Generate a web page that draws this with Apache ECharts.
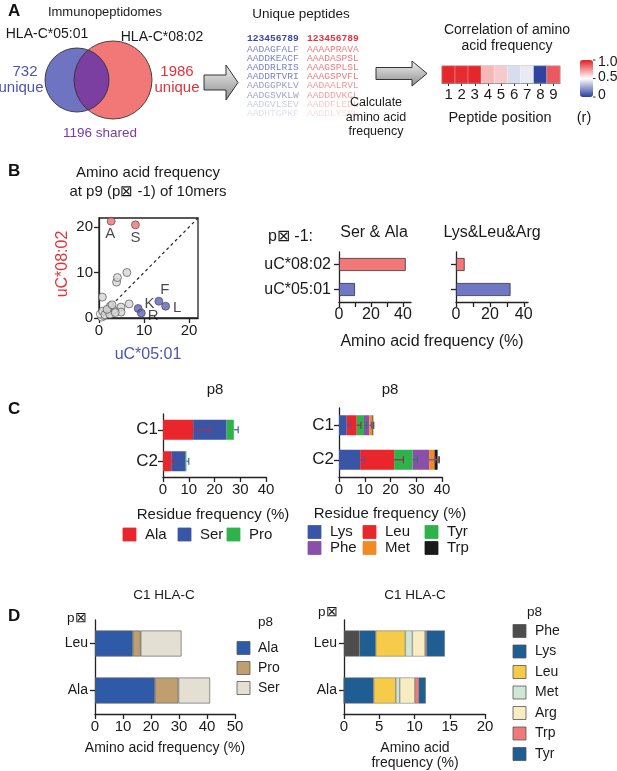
<!DOCTYPE html>
<html><head><meta charset="utf-8">
<script src="https://cdn.jsdelivr.net/npm/echarts@6/dist/echarts.min.js"></script>
<style>html,body{margin:0;padding:0;background:#fff}#c{width:617px;height:771px}</style>
</head><body><div id="c"></div>
<script>
// ---------------- DATA ----------------
const vennAlleles = ['HLA-C*05:01', 'HLA-C*08:02'];
const vennUnique = ['732', '1986'];
const vennShared = '1196';
const peptideHeader = '123456789';
const peptidesC0501 = ['AADAGFALF','AADDKEACF','AADDRLRIS','AADDRTVRI','AADGGPKLV','AADGSVKLW','AADGVLSEV','AADHTGPKF'];
const peptidesC0802 = ['AAAAPRAVA','AAADASPSL','AAAGSPLSL','AAAGSPVFL','AADAALRVL','AADDDVKCL','AADDFLEDL','AADDLYSML'];
const positions = ['1','2','3','4','5','6','7','8','9'];
const positionR = [0.98, 0.97, 0.98, 0.66, 0.62, 0.41, 0.445, 0.01, 0.87];
const colorbarTicks = [1.0, 0.5, 0];
const scatterTicks = [0, 10, 20];
const scatterMax = 22;
const scatterRed = [[2.7, 21.3, 'A'], [8.1, 20.5, 'S']];
const scatterBlue = [[8.7, 2.1, 'K'], [9.4, 1.1, 'R'], [13.3, 3.7, 'F'], [14.8, 2.6, 'L']];
const scatterGray = [[3.9,7.9],[4.1,8.9],[6.2,10.0],[0.75,4.6],[6.7,3.1],[4.9,2.4],[4.9,1.3],[2.5,2.6],[3.2,1.8],[2.1,1.5],[0.8,1.5],[1.3,0.7],[2.4,0.8],[3.6,1.2],[1.8,1.9],[2.9,2.9]];
const scatterWhite = [[0.6,0.2],[1.1,0.5],[0.3,0.9]];
const alleles = ['uC*05:01', 'uC*08:02'];
const serAla = [10.0, 41.7];
const lysLeuArg = [32.2, 5.1];
const freqTicks = [0, 10, 20, 30, 40];
const freqLabels = [0, 20, 40];
const cGroups = ['C2', 'C1'];
const cSmallNames = ['Ala', 'Ser', 'Pro'];
const cSmallVals = [[3.2, 11.7], [5.6, 13.0], [0.3, 2.8]];
const cSmallErr = [[1.0, 6.2], [0, 0], [0.9, 1.7]];
const cBigNames = ['Lys', 'Leu', 'Tyr', 'Phe', 'Met', 'Trp'];
const cBigVals = [[8.2, 3.0], [13.2, 3.9], [7.2, 2.8], [6.4, 2.1], [2.1, 1.2], [1.2, 0.3]];
const cBigErr = [[1.5, 1.3], [3.6, 1.6], [1.8, 1.0], [2.3, 0.8], [1.6, 0.5], [0.7, 0.1]];
const dRows = ['Ala', 'Leu'];
const dSmallNames = ['Ala', 'Pro', 'Ser'];
const dSmallVals = [[21.4, 13.5], [8.4, 2.8], [11.3, 14.6]];
const dBigNames = ['Phe', 'Lys', 'Leu', 'Met', 'Arg', 'Trp', 'Tyr'];
const dBigVals = [[0, 2.2], [4.2, 2.3], [3.15, 4.2], [0.55, 1.0], [2.15, 1.8], [0.55, 0.2], [1.0, 2.6]];

// ---------------- STYLES ----------------
const FONT = '"Liberation Sans", Arial, sans-serif';
const BLUE_T = '#4c55ad', RED_T = '#e4323a', PURPLE_T = '#7a3a9c';
const alleleColors = ['#7077c4', '#f07878'];
const cSmallColors = ['#e8262b', '#3a55a5', '#2fb24a'];
const cSmallErrColors = ['#a8305a', '#2a3f80', '#3a64a8'];
const cBigColors = ['#3a55a5', '#e8262b', '#2fb24a', '#8a4fa8', '#f08a24', '#1a1a1a'];
const cBigErrColors = ['#5a4fa0', '#8a3050', '#2a7a5a', '#7a4a9a', '#a05a40', '#555555'];
const dSmallColors = ['#2f5aa8', '#bf9f6f', '#e4dfd3'];
const dBigColors = ['#4d4d4d', '#1f5e93', '#f6cb4a', '#cfe7d4', '#f8ecc2', '#f07a7a', '#1f5e93'];

const chart = echarts.init(document.getElementById('c'), null, {renderer: 'canvas'});

const g = [];
function T(text, x, y, size, color, align, opts) {
  opts = opts || {};
  const el = {type: 'text', x: x, y: y, silent: true, z: 100,
    style: {text: text, fill: color || '#1a1a1a', fontSize: size, fontFamily: opts.family || FONT,
      fontWeight: opts.weight || 'normal', textAlign: align || 'center', textVerticalAlign: 'middle', opacity: opts.opacity == null ? 1 : opts.opacity}};
  if (opts.rotation) el.rotation = opts.rotation;
  return el;
}
function R(x, y, w, h, fill, stroke) {
  return {type: 'rect', silent: true, z: 100, shape: {x: x, y: y, width: w, height: h},
    style: {fill: fill, stroke: stroke || '#555', lineWidth: 0.8}};
}

// ---- Panel A ----
g.push(T('A', 8, 11, 17, '#111', 'left', {weight: 'bold'}));
g.push(T('Immunopeptidomes', 105, 12, 13));
g.push(T(vennAlleles[0], 47, 34, 14));
g.push(T(vennAlleles[1], 162, 37, 14));
const c1 = {x: 77, y: 80, r: 32}, c2 = {x: 113, y: 80, r: 39};
g.push({type: 'circle', silent: true, z: 90, shape: {cx: c1.x, cy: c1.y, r: c1.r}, style: {fill: '#6f74c2'}});
g.push({type: 'circle', silent: true, z: 90, shape: {cx: c2.x, cy: c2.y, r: c2.r}, style: {fill: '#f27878'}});
(function () {
  const d = c2.x - c1.x;
  const a = (d * d + c1.r * c1.r - c2.r * c2.r) / (2 * d);
  const h = Math.sqrt(c1.r * c1.r - a * a);
  const t1 = Math.atan2(h, a), t2 = Math.atan2(h, d - a);
  const pts = [];
  for (let i = 0; i <= 40; i++) { const t = -t1 + 2 * t1 * i / 40; pts.push([c1.x + c1.r * Math.cos(t), c1.y + c1.r * Math.sin(t)]); }
  for (let i = 0; i <= 40; i++) { const t = Math.PI - t2 + 2 * t2 * i / 40; pts.push([c2.x + c2.r * Math.cos(t), c2.y + c2.r * Math.sin(t)]); }
  g.push({type: 'polygon', silent: true, z: 91, shape: {points: pts}, style: {fill: '#7b3fa1'}});
})();
g.push({type: 'circle', silent: true, z: 92, shape: {cx: c1.x, cy: c1.y, r: c1.r}, style: {fill: 'none', stroke: '#333', lineWidth: 0.9}});
g.push({type: 'circle', silent: true, z: 92, shape: {cx: c2.x, cy: c2.y, r: c2.r}, style: {fill: 'none', stroke: '#333', lineWidth: 0.9}});
g.push(T(vennUnique[0], 25, 72, 15, BLUE_T));
g.push(T('unique', 21, 88, 15, BLUE_T));
g.push(T(vennUnique[1], 177, 72, 15, RED_T));
g.push(T('unique', 177, 88, 15, RED_T));
g.push(T(vennShared + ' shared', 100, 133, 13.5, PURPLE_T));
function arrow(x0, xb, x1, yc, bh, hh) {
  return {type: 'polygon', silent: true, z: 95,
    shape: {points: [[x0, yc - bh], [xb, yc - bh], [xb, yc - hh], [x1, yc], [xb, yc + hh], [xb, yc + bh], [x0, yc + bh]]},
    style: {fill: {type: 'linear', x: 0, y: 0, x2: 0, y2: 1, colorStops: [{offset: 0, color: '#f2f2f2'}, {offset: 1, color: '#8c8c8c'}]}, stroke: '#333', lineWidth: 1}};
}
g.push(arrow(204, 226, 238, 82.5, 7.5, 17.5));
g.push(arrow(376, 412, 427, 73.5, 6, 12.5));
g.push(T('Unique peptides', 301, 14, 13.5));
const MONO = '"Liberation Mono", "DejaVu Sans Mono", monospace';
g.push(T(peptideHeader, 247, 39, 9.6, '#3b47a0', 'left', {family: MONO, weight: 'bold'}));
g.push(T(peptideHeader, 307, 39, 9.6, '#e4323a', 'left', {family: MONO, weight: 'bold'}));
const fade = [1, 1, 1, 1, 0.8, 0.72, 0.42, 0.25];
peptidesC0501.forEach((p, i) => g.push(T(p, 247, 49 + i * 9.2, 9.6, '#7c82c6', 'left', {family: MONO, opacity: fade[i]})));
peptidesC0802.forEach((p, i) => g.push(T(p, 307, 49 + i * 9.2, 9.6, '#ec7a7e', 'left', {family: MONO, opacity: fade[i]})));
g.push(T('Calculate', 376, 103, 12.5));
g.push(T('amino acid', 376, 118, 12.5));
g.push(T('frequency', 376, 132, 12.5));
g.push(T('Correlation of amino', 507, 30, 14));
g.push(T('acid frequency', 507, 46, 14));
g.push(T('Peptide position', 500, 118, 14.5));
g.push(T('(r)', 584, 118, 14.5));
const cbTop = 60, cbH = 37;
colorbarTicks.forEach(v => {
  g.push(T(v === 0 ? '0' : v.toFixed(1), 598, cbTop + (1 - v) * cbH + (v === 1 ? 2 : v === 0 ? -2 : -1), 14, '#1a1a1a', 'left'));
  g.push({type: 'line', silent: true, z: 100, shape: {x1: 593, y1: cbTop + (1 - v) * cbH, x2: 595.5, y2: cbTop + (1 - v) * cbH}, style: {stroke: '#333', lineWidth: 1}});
});

// ---- Panel B ----
g.push(T('B', 8, 171, 17, '#111', 'left', {weight: 'bold'}));
g.push(T('Amino acid frequency', 148, 173, 15));
g.push(T('at p9 (p\u22A0 -1) of 10mers', 148, 192, 15));
g.push(T(alleles[1], 63, 264, 16, RED_T, 'center', {rotation: Math.PI / 2}));
g.push(T(alleles[0], 148, 355, 16, BLUE_T));
g.push(T('p\u22A0 -1:', 268, 237, 16, '#1a1a1a', 'left'));
g.push(T('Ser & Ala', 374, 233, 16));
g.push(T('Lys&Leu&Arg', 492, 233, 16));
g.push(T('Amino acid frequency (%)', 432, 342, 16));

// ---- Panel C ----
g.push(T('C', 8, 409, 17, '#111', 'left', {weight: 'bold'}));
g.push(T('p8', 215, 390, 15));
g.push(T('p8', 390, 390, 15));
g.push(T('Residue frequency (%)', 213, 515, 15));
g.push(T('Residue frequency (%)', 390, 514, 15));
const cSmallLegX = [123, 178, 227];
cSmallNames.forEach((n, i) => { g.push(R(cSmallLegX[i], 528, 13, 13, cSmallColors[i], cSmallColors[i])); g.push(T(n, cSmallLegX[i] + 22, 535, 15, '#1a1a1a', 'left')); });
const cBigLegX = [308, 363, 425];
cBigNames.forEach((n, i) => {
  const col = i % 3, row = Math.floor(i / 3);
  const y = 532 + row * 16;
  g.push(R(cBigLegX[col], y - 6.5, 13, 13, cBigColors[i], cBigColors[i]));
  g.push(T(n, cBigLegX[col] + 22, y, 15, '#1a1a1a', 'left'));
});

// ---- Panel D ----
g.push(T('D', 8, 616, 17, '#111', 'left', {weight: 'bold'}));
g.push(T('C1 HLA-C', 164, 595, 13.5));
g.push(T('C1 HLA-C', 415, 595, 13.5));
g.push(T('p\u22A0', 67, 618, 13.5, '#1a1a1a', 'left'));
g.push(T('p\u22A0', 318, 612, 13.5, '#1a1a1a', 'left'));
g.push(T('p8', 258, 622, 13.5, '#1a1a1a', 'left'));
g.push(T('p8', 527, 612, 13.5, '#1a1a1a', 'left'));
dSmallNames.forEach((n, i) => { const y = 648 + i * 20; g.push(R(237, y - 6.5, 13, 13, dSmallColors[i])); g.push(T(n, 258, y, 14, '#1a1a1a', 'left')); });
dBigNames.forEach((n, i) => { const y = 631 + i * 20.5; g.push(R(513, y - 6.5, 13, 13, dBigColors[i])); g.push(T(n, 535, y, 14, '#1a1a1a', 'left')); });
g.push(T('Amino acid frequency (%)', 165, 748, 14));
g.push(T('Amino acid', 415, 748, 14));
g.push(T('frequency (%)', 415, 763, 14));

// ---------------- AXES ----------------
const axLine = {show: true, lineStyle: {color: '#222', width: 1.3}};
const axTick = {show: true, length: 5, lineStyle: {color: '#222', width: 1.3}};
const axLab = {color: '#1a1a1a', fontSize: 15, fontFamily: FONT, margin: 4};
const noSplit = {show: false};

const grids = [
  {left: 442, top: 66, width: 118, height: 17, show: true, borderColor: '#888', borderWidth: 1},
  {left: 99, top: 218, width: 99, height: 100, show: true, borderColor: '#222', borderWidth: 1.3},
  {left: 339, top: 252, width: 72, height: 50},
  {left: 456, top: 252, width: 72, height: 50},
  {left: 163, top: 414, width: 103, height: 63},
  {left: 339, top: 408, width: 103, height: 69},
  {left: 95, top: 620, width: 140, height: 94},
  {left: 344, top: 620, width: 141, height: 94}
].map(o => Object.assign({outerBoundsMode: 'none', containLabel: false}, o));

function valAxis(gi, max, opts) {
  opts = opts || {};
  const a = {type: 'value', gridIndex: gi, min: 0, max: max, splitLine: noSplit,
    axisLine: axLine, axisTick: Object.assign({}, axTick), axisLabel: Object.assign({}, axLab, {margin: 5, fontSize: opts.fs || 15})};
  if (opts.interval) a.interval = opts.interval;
  if (opts.ticks) a.axisTick.customValues = opts.ticks;
  if (opts.labels) a.axisLabel.customValues = opts.labels;
  if (opts.labMargin != null) a.axisLabel.margin = opts.labMargin;
  return a;
}
function catAxis(gi, cats, showLab, fs, margin) {
  return {type: 'category', gridIndex: gi, data: cats, axisLine: axLine,
    axisTick: Object.assign({}, axTick, {alignWithLabel: true}),
    axisLabel: Object.assign({}, axLab, {show: showLab !== false, margin: margin || 7, fontSize: fs || 15})};
}

const xAxes = [
  {type: 'category', gridIndex: 0, data: positions, axisLine: {show: true, lineStyle: {color: '#555', width: 1}},
    axisTick: {show: true, alignWithLabel: true, length: 3, lineStyle: {color: '#333'}}, axisLabel: Object.assign({}, axLab, {margin: 4})},
  valAxis(1, scatterMax, {ticks: scatterTicks, labels: scatterTicks}),
  valAxis(2, 45, {ticks: freqTicks, labels: freqLabels, fs: 16}),
  valAxis(3, 42.5, {ticks: freqTicks, labels: freqLabels, fs: 16}),
  valAxis(4, 40, {interval: 10, fs: 15}),
  valAxis(5, 40, {interval: 10, fs: 15}),
  valAxis(6, 50, {interval: 10}),
  valAxis(7, 20, {interval: 5})
];
const yAxes = [
  {type: 'category', gridIndex: 0, data: [''], show: false},
  valAxis(1, scatterMax, {ticks: scatterTicks, labels: scatterTicks, labMargin: 6}),
  catAxis(2, alleles, true, 16, 8),
  catAxis(3, alleles, false),
  catAxis(4, cGroups, true, 17, 5),
  catAxis(5, cGroups, true, 17, 5),
  catAxis(6, dRows, true, 14, 7),
  catAxis(7, dRows, true, 14, 7)
];

// ---------------- SERIES ----------------
const series = [];
series.push({type: 'heatmap', xAxisIndex: 0, yAxisIndex: 0, data: positionR.map((v, i) => [i, 0, v]),
  itemStyle: {borderColor: 'rgba(255,255,255,0.55)', borderWidth: 0.6}, emphasis: {disabled: true}});

series.push({type: 'line', xAxisIndex: 1, yAxisIndex: 1, data: [[0, 0], [scatterMax, scatterMax]], symbol: 'none', silent: true,
  lineStyle: {type: [3, 3], color: '#222', width: 1.2}, z: 1});
const ptStyle = (fill) => ({color: fill, borderColor: '#444', borderWidth: 0.8});
series.push({type: 'scatter', xAxisIndex: 1, yAxisIndex: 1, symbolSize: 8, data: scatterWhite, itemStyle: ptStyle('#ffffff'), z: 3});
series.push({type: 'scatter', xAxisIndex: 1, yAxisIndex: 1, symbolSize: 8, data: scatterGray, itemStyle: ptStyle('#d6d6d6'), z: 3});
const labelPlace = {
  A: {position: 'bottom', distance: 1, offset: [-1, 0]},
  S: {position: 'bottom', distance: 1, offset: [0, 0]},
  K: {position: 'right', distance: 2, offset: [0, -5]},
  R: {position: 'right', distance: 2, offset: [0, 3]},
  F: {position: 'top', distance: 2, offset: [6, 3]},
  L: {position: 'right', distance: 3, offset: [0, 2]}
};
function labeled(arr) {
  return arr.map(d => ({value: [d[0], d[1]], name: d[2],
    label: Object.assign({show: true, formatter: d[2], fontSize: 15, fontFamily: FONT, color: '#1a1a1a'}, labelPlace[d[2]])}));
}
series.push({type: 'scatter', xAxisIndex: 1, yAxisIndex: 1, symbolSize: 8, data: labeled(scatterBlue), itemStyle: ptStyle('#5a63b8'), z: 4});
series.push({type: 'scatter', xAxisIndex: 1, yAxisIndex: 1, symbolSize: 8, data: labeled(scatterRed), itemStyle: ptStyle('#ee6f73'), z: 4});

[serAla, lysLeuArg].forEach((vals, k) => {
  series.push({type: 'bar', xAxisIndex: 2 + k, yAxisIndex: 2 + k, barWidth: 13,
    data: vals.map((v, i) => ({value: v, itemStyle: {color: alleleColors[i]}})),
    itemStyle: {borderColor: '#333', borderWidth: 0.8}});
});

function stacked(gi, names, vals, colors, stack, barWidth, border) {
  names.forEach((n, s) => {
    series.push({type: 'bar', name: n, stack: stack, xAxisIndex: gi, yAxisIndex: gi, barWidth: barWidth,
      data: vals[s], itemStyle: Object.assign({color: colors[s]}, border || {})});
  });
}
function errorBars(gi, vals, errs, colors) {
  const data = [];
  const cum = vals[0].map(() => 0);
  vals.forEach((row, s) => row.forEach((v, c) => {
    cum[c] += v;
    if (errs[s][c] > 0) data.push([cum[c], c, errs[s][c], s]);
  }));
  series.push({type: 'custom', xAxisIndex: gi, yAxisIndex: gi, data: data, z: 10, silent: true,
    encode: {x: 0, y: 1},
    renderItem: function (params, api) {
      const p0 = api.coord([api.value(0), api.value(1)]);
      const p1 = api.coord([api.value(0) + api.value(2), api.value(1)]);
      const col = colors[api.value(3)];
      return {type: 'group', children: [
        {type: 'line', shape: {x1: p0[0], y1: p0[1], x2: p1[0], y2: p1[1]}, style: {stroke: col, lineWidth: 1.2}},
        {type: 'line', shape: {x1: p1[0], y1: p1[1] - 3.5, x2: p1[0], y2: p1[1] + 3.5}, style: {stroke: col, lineWidth: 1.2}}
      ]};
    }});
}
stacked(4, cSmallNames, cSmallVals, cSmallColors, 'cs', 20);
errorBars(4, cSmallVals, cSmallErr, cSmallErrColors);
stacked(5, cBigNames, cBigVals, cBigColors, 'cb', 20);
errorBars(5, cBigVals, cBigErr, cBigErrColors);

stacked(6, dSmallNames, dSmallVals, dSmallColors, 'ds', 26, {borderColor: '#666', borderWidth: 0.7});
stacked(7, dBigNames, dBigVals, dBigColors, 'db', 26, {borderColor: '#666', borderWidth: 0.5});

chart.setOption({
  animation: false,
  backgroundColor: '#ffffff',
  textStyle: {fontFamily: FONT},
  grid: grids,
  xAxis: xAxes,
  yAxis: yAxes,
  visualMap: [{type: 'continuous', seriesIndex: 0, min: 0, max: 1, orient: 'vertical', left: 580, top: cbTop,
    itemWidth: 13, itemHeight: cbH, calculable: false, padding: 0, text: null, showLabel: false,
    inRange: {color: ['#2b3f9c', '#ffffff', '#e31e24']}}],
  series: series,
  graphic: g
});
</script></body></html>
